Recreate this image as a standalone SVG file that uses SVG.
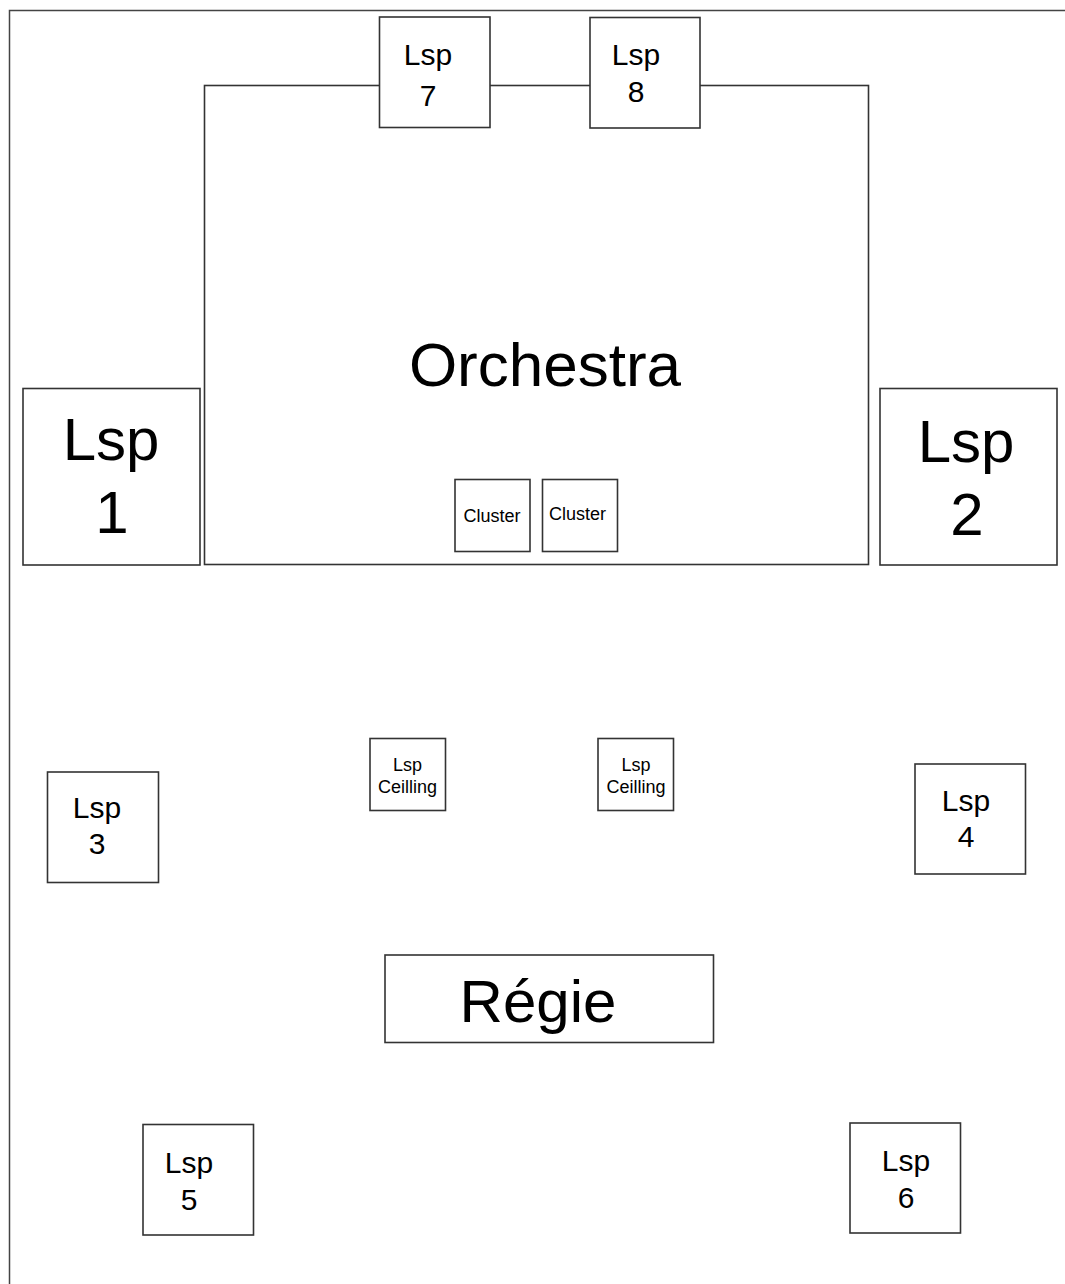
<svg xmlns="http://www.w3.org/2000/svg" width="1065" height="1284" viewBox="0 0 1065 1284">
<style>
  .box{fill:#ffffff;stroke:#333333;stroke-width:1.6}
  .frame{fill:none;stroke:#444444;stroke-width:1.5}
  text{font-family:"Liberation Sans",Arial,sans-serif;fill:#000000;text-anchor:middle}
  .s{font-size:30px}
  .l{font-size:60px}
  .xl{font-size:62px}
  .t{font-size:18px}
</style>
<rect x="0" y="0" width="1065" height="1284" fill="#ffffff"/>
<path class="frame" d="M9.5 1284 V10.5 H1065"/>
<g id="orchestra">
  <rect class="box" x="204.5" y="85.5" width="664" height="479"/>
  <text class="xl" x="545" y="386">Orchestra</text>
</g>
<g id="lsp7">
  <rect class="box" x="379.5" y="17" width="110.5" height="110.5"/>
  <text class="s" x="428" y="65">Lsp</text>
  <text class="s" x="428" y="106">7</text>
</g>
<g id="lsp8">
  <rect class="box" x="590" y="17.5" width="110" height="110.5"/>
  <text class="s" x="636" y="65">Lsp</text>
  <text class="s" x="636" y="101.5">8</text>
</g>
<g id="lsp1">
  <rect class="box" x="23" y="388.5" width="177" height="176.5"/>
  <text class="l" x="111" y="460">Lsp</text>
  <text class="l" x="112" y="533">1</text>
</g>
<g id="lsp2">
  <rect class="box" x="880" y="388.5" width="177" height="176.5"/>
  <text class="l" x="966" y="461.5">Lsp</text>
  <text class="l" x="967" y="535">2</text>
</g>
<g id="cluster1">
  <rect class="box" x="455" y="479.5" width="75" height="72"/>
  <text class="t" x="492" y="521.5">Cluster</text>
</g>
<g id="cluster2">
  <rect class="box" x="542.5" y="479.5" width="75" height="72"/>
  <text class="t" x="577.5" y="520">Cluster</text>
</g>
<g id="ceiling1">
  <rect class="box" x="370" y="738.5" width="75.5" height="72"/>
  <text class="t" x="407.5" y="770.5">Lsp</text>
  <text class="t" x="407.5" y="792.5">Ceilling</text>
</g>
<g id="ceiling2">
  <rect class="box" x="598" y="738.5" width="75.5" height="72"/>
  <text class="t" x="636" y="770.5">Lsp</text>
  <text class="t" x="636" y="792.5">Ceilling</text>
</g>
<g id="lsp3">
  <rect class="box" x="47.5" y="772" width="111" height="110.5"/>
  <text class="s" x="97" y="818">Lsp</text>
  <text class="s" x="97" y="853.5">3</text>
</g>
<g id="lsp4">
  <rect class="box" x="915" y="764" width="110.5" height="110"/>
  <text class="s" x="966" y="811">Lsp</text>
  <text class="s" x="966" y="847">4</text>
</g>
<g id="regie">
  <rect class="box" x="385" y="955" width="328.5" height="87.5"/>
  <text class="l" x="538" y="1021.5">Régie</text>
</g>
<g id="lsp5">
  <rect class="box" x="143" y="1124.5" width="110.5" height="110.5"/>
  <text class="s" x="189" y="1173">Lsp</text>
  <text class="s" x="189" y="1210">5</text>
</g>
<g id="lsp6">
  <rect class="box" x="850" y="1123" width="110.5" height="110"/>
  <text class="s" x="906" y="1171">Lsp</text>
  <text class="s" x="906" y="1208">6</text>
</g>
<g id="connectors"></g>
</svg>
